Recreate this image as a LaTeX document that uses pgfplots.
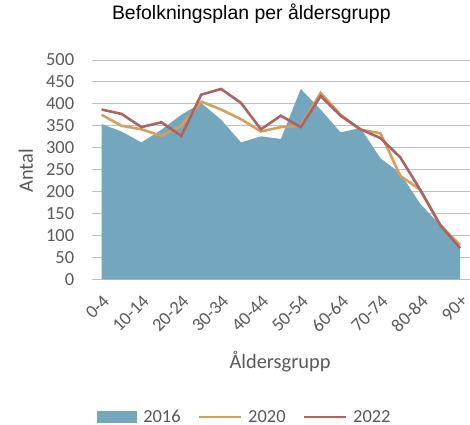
\documentclass[border=0pt]{standalone}
\usepackage{fontspec}
\setmainfont{Carlito}
\newfontfamily\arial{Liberation Sans}
\usepackage{pgfplots}
\usepackage{pgfplotstable}
\pgfplotsset{compat=1.18}
\definecolor{area16}{HTML}{74A7BD}
\definecolor{line20}{HTML}{D4A05B}
\definecolor{line22}{HTML}{AF6262}
\definecolor{txt}{HTML}{595959}
\definecolor{grid}{HTML}{D9D9D9}

% idx = age group 0-4, 5-9, ..., 90+
\pgfplotstableread{
idx y2016 y2020 y2022
0  354 375 387
1  337 350 377
2  312 342 347
3  341 327 358
4  375 350 327
5  402 405 421
6  364 387 434
7  312 365 402
8  326 337 342
9  320 347 373
10 434 350 347
11 387 425 418
12 335 375 373
13 345 341 342
14 276 333 322
15 242 236 278
16 172 204 204
17 124 124 124
18 82  78  71
}\data

\begin{document}
\begin{tikzpicture}
\path[use as bounding box] (0,0) rectangle (470bp,425bp);
\begin{axis}[
    at={(91.7bp,145.7bp)}, anchor=south west,
    scale only axis, width=378.3bp, height=219.3bp,
    xmin=-0.5, xmax=18.5, ymin=0, ymax=500,
    ytick={0,50,...,500},
    xtick={0,2,...,18},
    xticklabels={0-4,10-14,20-24,30-34,40-44,50-54,60-64,70-74,80-84,90+},
    axis line style={draw=none},
    tick style={draw=none},
    ymajorgrids, xmajorgrids=false, grid style={grid, line width=1bp},
    /pgf/number format/assume math mode=true,
    ticklabel style={font=\fontsize{18.5}{20}\selectfont, text=txt},
    yticklabel style={xshift=-14bp},
    % shifts act in the rotated frame
    xticklabel style={rotate=45, anchor=north east, inner sep=1bp, yshift=-9.2bp, xshift=-9.2bp},
    xlabel={Åldersgrupp}, ylabel={Antal},
    label style={font=\fontsize{20.5}{22}\selectfont, text=txt},
    xlabel style={at={(axis description cs:0.498,-0.377)}, anchor=center},
    ylabel style={at={(axis description cs:-0.174,0.494)}, anchor=center},
    title={\arial Befolkningsplan per åldersgrupp},
    title style={at={(axis description cs:0.422,1.182)}, anchor=center, font=\fontsize{19.5}{21}\selectfont},
    legend columns=3,
    legend style={at={(axis description cs:0.405,-0.628)}, anchor=center, draw=none,
        font=\fontsize{18.5}{20}\selectfont, text=txt,
        /tikz/every odd column/.append style={column sep=4bp},
        /tikz/every even column/.append style={column sep=15bp}},
    legend image code/.code={\draw[#1] (0bp,0bp) -- (42bp,0bp);},
]
\addplot[fill=area16, draw=none, area legend,
    legend image code/.code={\fill[area16] (0bp,-6bp) rectangle (40bp,6bp);}]
    table[x=idx, y=y2016] {\data} \closedcycle;
\addlegendentry{2016}
\addplot[line20, line width=2.6bp, mark=none] table[x=idx, y=y2020] {\data};
\addlegendentry{2020}
\addplot[line22, line width=2.6bp, mark=none] table[x=idx, y=y2022] {\data};
\addlegendentry{2022}
\end{axis}
\end{tikzpicture}
\end{document}
